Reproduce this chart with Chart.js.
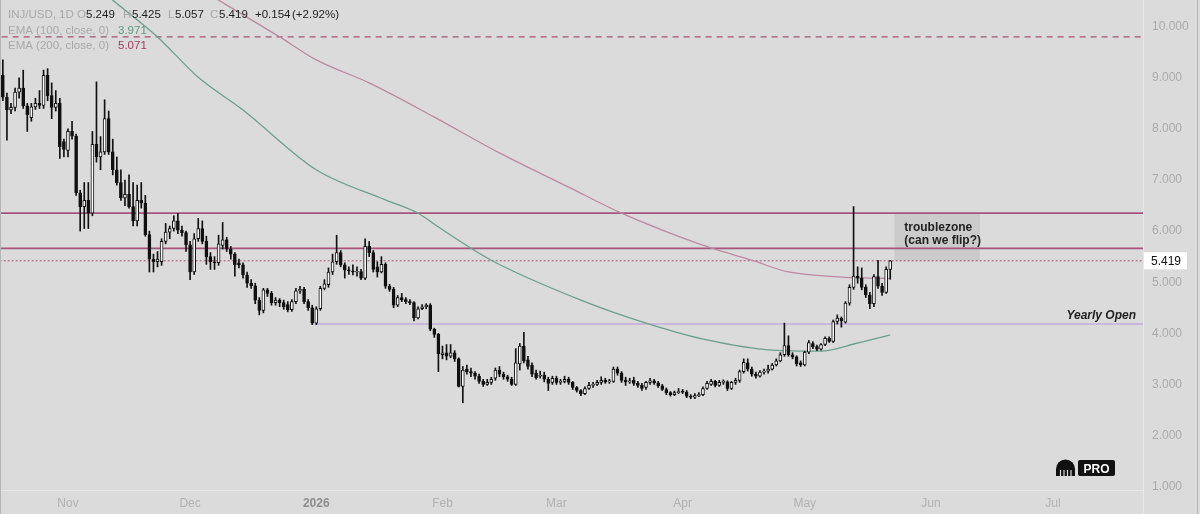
<!DOCTYPE html>
<html>
<head>
<meta charset="utf-8">
<script src="https://cdn.jsdelivr.net/npm/chart.js@4.4.1/dist/chart.umd.min.js"></script>
<style>
  html, body { margin: 0; padding: 0; background: #dbdbdb; }
  #wrap { width: 1200px; height: 514px; }
</style>
</head>
<body>
<div id="wrap"><canvas id="chart" width="1200" height="514"></canvas></div>
<script>
// INJ/USD daily candles, first one on 16 Oct 2025
const firstDate = '2025-10-16';

const openPrices = [
  9.05, 8.62, 8.37, 8.42, 8.72, 8.80, 8.45, 8.22, 8.43, 8.50,
  8.46, 9.05, 8.65, 8.42, 8.50, 7.75, 7.58, 7.95, 7.86, 6.75,
  6.48, 6.60, 6.35, 7.70, 7.45, 7.55, 8.20, 7.55, 7.20, 6.95,
  6.65, 6.72, 6.48, 6.20, 6.60, 6.55, 5.93, 5.45, 5.40, 5.40,
  5.80, 5.98, 6.05, 6.20, 6.02, 5.97, 5.73, 5.20, 5.85, 6.05,
  5.80, 5.50, 5.40, 5.38, 5.72, 5.83, 5.65, 5.55, 5.38, 5.34,
  5.14, 4.98, 4.93, 4.65, 4.45, 4.85, 4.78, 4.60, 4.65, 4.60,
  4.56, 4.46, 4.62, 4.83, 4.86, 4.62, 4.50, 4.20, 4.48, 4.88,
  4.95, 5.20, 5.40, 5.58, 5.34, 5.24, 5.22, 5.20, 5.21, 5.08,
  5.70, 5.58, 5.30, 5.20, 5.35, 4.92, 4.86, 4.55, 4.70, 4.66,
  4.62, 4.60, 4.30, 4.48, 4.52, 4.55, 4.08, 3.98, 3.58, 3.62,
  3.55, 3.62, 3.50, 2.96, 3.30, 3.25, 3.22, 3.16, 3.06, 3.00,
  3.04, 3.12, 3.28, 3.20, 3.15, 3.10, 3.00, 3.40, 3.75, 3.48,
  3.38, 3.22, 3.16, 3.18, 3.10, 3.04, 3.12, 3.04, 3.06, 3.10,
  3.04, 2.94, 2.88, 2.82, 2.92, 2.98, 3.00, 3.04, 3.08, 3.05,
  3.06, 3.30, 3.22, 3.08, 3.05, 3.08, 3.02, 2.98, 2.94, 3.04,
  3.07, 3.03, 2.97, 2.90, 2.84, 2.80, 2.84, 2.86, 2.85, 2.77,
  2.75, 2.78, 2.80, 2.92, 3.00, 3.06, 2.98, 3.04, 3.05, 2.92,
  3.04, 3.08, 3.25, 3.42, 3.30, 3.20, 3.16, 3.24, 3.26, 3.30,
  3.38, 3.46, 3.58, 3.76, 3.58, 3.54, 3.42, 3.38, 3.63, 3.80,
  3.74, 3.69, 3.78, 3.90, 3.84, 4.23, 4.30, 4.22, 4.59, 4.90,
  5.12, 5.08, 4.90, 4.75, 4.58, 5.11, 4.92, 4.80, 5.249
];
const highPrices = [
  9.35, 8.70, 8.50, 8.80, 9.00, 9.15, 8.50, 8.50, 8.60, 8.75,
  9.15, 9.18, 8.90, 8.75, 8.60, 7.80, 8.00, 8.15, 7.90, 6.80,
  6.95, 6.95, 7.95, 8.92, 7.85, 8.57, 8.35, 7.80, 7.45, 7.20,
  7.00, 7.10, 6.95, 6.90, 6.95, 6.70, 6.00, 5.55, 5.60, 5.85,
  6.15, 6.10, 6.30, 6.35, 6.10, 6.00, 5.80, 5.95, 6.25, 6.20,
  5.90, 5.58, 5.50, 5.92, 6.17, 5.88, 5.70, 5.58, 5.45, 5.38,
  5.20, 5.05, 4.98, 4.70, 4.88, 4.88, 4.82, 4.70, 4.68, 4.65,
  4.62, 4.66, 4.88, 4.92, 4.90, 4.66, 4.55, 4.52, 4.92, 5.05,
  5.28, 5.55, 5.92, 5.62, 5.38, 5.30, 5.34, 5.30, 5.25, 5.85,
  5.80, 5.62, 5.40, 5.50, 5.38, 4.96, 4.90, 4.74, 4.78, 4.70,
  4.66, 4.62, 4.52, 4.56, 4.58, 4.58, 4.10, 4.00, 3.75, 3.78,
  3.78, 3.66, 3.52, 3.35, 3.38, 3.32, 3.25, 3.20, 3.10, 3.10,
  3.14, 3.32, 3.35, 3.24, 3.18, 3.14, 3.70, 3.80, 4.02, 3.55,
  3.42, 3.28, 3.26, 3.24, 3.14, 3.16, 3.16, 3.10, 3.16, 3.14,
  3.06, 2.96, 2.90, 2.95, 3.04, 3.04, 3.08, 3.15, 3.12, 3.10,
  3.34, 3.34, 3.25, 3.14, 3.12, 3.14, 3.06, 3.02, 3.06, 3.12,
  3.10, 3.06, 3.00, 2.93, 2.86, 2.87, 2.92, 2.90, 2.88, 2.80,
  2.82, 2.84, 2.95, 3.06, 3.10, 3.08, 3.08, 3.09, 3.07, 3.06,
  3.12, 3.28, 3.50, 3.50, 3.34, 3.24, 3.27, 3.30, 3.38, 3.41,
  3.50, 3.62, 4.20, 3.95, 3.62, 3.56, 3.46, 3.65, 3.86, 3.84,
  3.77, 3.80, 3.93, 3.93, 4.26, 4.36, 4.32, 4.62, 4.95, 6.48,
  5.30, 5.28, 4.95, 4.80, 5.15, 5.43, 4.98, 5.30, 5.425
];
const lowPrices = [
  8.55, 7.78, 8.30, 8.35, 8.60, 8.40, 7.95, 8.15, 8.38, 8.40,
  8.40, 8.55, 8.20, 8.35, 7.42, 7.45, 7.45, 7.80, 6.70, 6.00,
  6.05, 6.05, 6.30, 7.35, 7.20, 7.50, 7.50, 7.10, 6.90, 6.60,
  6.50, 6.45, 6.10, 6.10, 6.45, 5.90, 5.20, 5.20, 5.30, 5.33,
  5.75, 5.85, 6.00, 5.95, 5.90, 5.60, 5.05, 5.15, 5.80, 5.75,
  5.35, 5.25, 5.25, 5.33, 5.65, 5.60, 5.45, 5.12, 5.28, 5.08,
  4.90, 4.88, 4.58, 4.36, 4.40, 4.72, 4.55, 4.55, 4.52, 4.47,
  4.42, 4.43, 4.58, 4.78, 4.58, 4.45, 4.17, 4.17, 4.45, 4.85,
  4.90, 5.15, 5.35, 5.30, 5.08, 5.15, 5.14, 5.12, 5.05, 5.05,
  5.50, 5.20, 5.10, 5.18, 4.88, 4.82, 4.50, 4.52, 4.62, 4.58,
  4.56, 4.24, 4.28, 4.46, 4.48, 4.05, 3.92, 3.25, 3.50, 3.48,
  3.52, 3.45, 2.95, 2.64, 3.20, 3.15, 3.10, 3.02, 2.96, 2.98,
  3.00, 3.08, 3.15, 3.10, 3.06, 2.98, 2.98, 3.28, 3.42, 3.30,
  3.15, 3.10, 3.12, 3.05, 2.88, 3.00, 3.00, 3.00, 3.03, 3.00,
  2.90, 2.85, 2.78, 2.80, 2.90, 2.94, 2.98, 3.00, 3.02, 3.02,
  3.04, 3.18, 3.04, 2.98, 3.02, 2.98, 2.94, 2.88, 2.90, 3.00,
  3.00, 2.94, 2.88, 2.80, 2.77, 2.78, 2.82, 2.82, 2.74, 2.72,
  2.72, 2.76, 2.78, 2.90, 2.98, 2.95, 2.96, 3.00, 2.88, 2.90,
  3.00, 3.04, 3.22, 3.26, 3.16, 3.12, 3.14, 3.20, 3.22, 3.28,
  3.36, 3.44, 3.55, 3.55, 3.50, 3.36, 3.35, 3.36, 3.60, 3.70,
  3.66, 3.67, 3.76, 3.82, 3.82, 4.18, 4.12, 4.20, 4.55, 4.86,
  4.98, 4.85, 4.70, 4.48, 4.52, 4.88, 4.74, 4.78, 5.057
];
const closePrices = [
  8.62, 8.37, 8.42, 8.72, 8.80, 8.45, 8.28, 8.43, 8.50, 8.46,
  9.05, 8.65, 8.42, 8.50, 7.65, 7.60, 7.95, 7.86, 6.75, 6.48,
  6.60, 6.35, 7.70, 7.45, 7.55, 8.20, 7.55, 7.20, 6.95, 6.65,
  6.72, 6.48, 6.20, 6.60, 6.55, 5.93, 5.45, 5.40, 5.45, 5.80,
  5.98, 6.05, 6.20, 6.02, 5.97, 5.73, 5.20, 5.85, 6.05, 5.80,
  5.50, 5.40, 5.38, 5.75, 5.83, 5.65, 5.55, 5.34, 5.34, 5.14,
  4.98, 4.93, 4.65, 4.45, 4.85, 4.78, 4.60, 4.65, 4.60, 4.52,
  4.46, 4.62, 4.83, 4.86, 4.62, 4.50, 4.20, 4.48, 4.88, 4.97,
  5.20, 5.40, 5.58, 5.34, 5.24, 5.22, 5.20, 5.21, 5.08, 5.70,
  5.58, 5.25, 5.20, 5.35, 4.92, 4.86, 4.55, 4.70, 4.66, 4.62,
  4.60, 4.30, 4.48, 4.52, 4.55, 4.08, 3.98, 3.60, 3.62, 3.55,
  3.62, 3.50, 2.96, 3.28, 3.25, 3.22, 3.16, 3.06, 3.00, 3.04,
  3.10, 3.28, 3.20, 3.15, 3.10, 3.00, 3.42, 3.75, 3.46, 3.35,
  3.20, 3.13, 3.18, 3.10, 3.02, 3.12, 3.04, 3.06, 3.10, 3.04,
  2.94, 2.88, 2.82, 2.92, 2.98, 3.00, 3.04, 3.08, 3.05, 3.06,
  3.30, 3.22, 3.08, 3.05, 3.07, 3.02, 2.98, 2.92, 3.04, 3.07,
  3.03, 2.97, 2.90, 2.84, 2.80, 2.84, 2.86, 2.85, 2.77, 2.75,
  2.78, 2.80, 2.92, 3.02, 3.06, 2.98, 3.04, 3.05, 2.92, 3.04,
  3.08, 3.25, 3.43, 3.30, 3.20, 3.16, 3.24, 3.26, 3.30, 3.38,
  3.46, 3.58, 3.76, 3.58, 3.54, 3.40, 3.38, 3.63, 3.82, 3.74,
  3.69, 3.78, 3.90, 3.84, 4.23, 4.30, 4.24, 4.59, 4.90, 5.12,
  5.08, 4.90, 4.75, 4.58, 5.11, 4.92, 4.80, 5.25, 5.419
];

// EMA curves
const ema100Dates = ['2025-11-01', '2025-11-12', '2025-11-23', '2025-12-03', '2025-12-14', '2026-01-01',
  '2026-01-18', '2026-01-26', '2026-01-31', '2026-02-13', '2026-03-07', '2026-03-23', '2026-04-07',
  '2026-04-23', '2026-05-05', '2026-05-14', '2026-05-22'];
const ema100Values = [11.25, 10.52, 9.80, 9.01, 8.37, 7.20, 6.61, 6.35, 6.08, 5.43, 4.65, 4.20, 3.87,
  3.67, 3.65, 3.81, 3.971];
const ema200Dates = ['2025-11-28', '2025-12-08', '2025-12-23', '2026-01-01', '2026-01-14', '2026-01-30',
  '2026-02-15', '2026-03-04', '2026-03-17', '2026-03-27', '2026-04-08', '2026-04-18', '2026-04-27',
  '2026-05-10', '2026-05-17', '2026-05-22'];
const ema200Values = [11.0, 10.52, 9.80, 9.35, 8.90, 8.23, 7.53, 6.86, 6.35, 6.02, 5.67, 5.43, 5.20,
  5.10, 5.08, 5.071];

const dashedLevel = 9.80;
const solidLevels = [6.35, 5.66];
const lastPrice = 5.419;
const yearlyOpenDate = '2026-01-01';
const yearlyOpenPrice = 4.18;
const zoneDates = ['2026-05-23', '2026-06-13'];
const zonePrices = [6.35, 5.419];

const monthTicks = ['2025-11-01', '2025-12-01', '2026-01-01', '2026-02-01', '2026-03-01',
  '2026-04-01', '2026-05-01', '2026-06-01', '2026-07-01'];
const monthLabels = ['Nov', 'Dec', '2026', 'Feb', 'Mar', 'Apr', 'May', 'Jun', 'Jul'];
const priceTicks = [1, 2, 3, 4, 5, 6, 7, 8, 9, 10];

const dayNum = s => Date.parse(s + 'T00:00:00Z') / 864e5;
const day0 = dayNum(firstDate);
const novFirst = dayNum('2025-11-01');
const viewStart = novFirst - 16.7;
const viewEnd = novFirst + 264.1;

const wicks = [], bodies = [], bodyColors = [];
for (let i = 0; i < closePrices.length; i++) {
  wicks.push({ x: day0 + i, y: [lowPrices[i], highPrices[i]] });
  bodies.push({ x: day0 + i, y: [openPrices[i], closePrices[i]] });
  bodyColors.push(closePrices[i] >= openPrices[i] ? '#ffffff' : '#111111');
}

const FONT = '"Liberation Sans", Arial, sans-serif';
const levelLine = (y, from, color, width, dash, order) => ({
  type: 'line',
  data: [{ x: from, y: y }, { x: viewEnd + 5, y: y }],
  borderColor: color, borderWidth: width, borderDash: dash,
  pointRadius: 0, order: order
});
const noPad = s => { s.paddingTop = 0; s.paddingBottom = 0; s.paddingLeft = 0; s.paddingRight = 0; };

const overlay = {
  id: 'overlay',
  beforeDatasetsDraw(chart) {
    const { ctx, scales: { x, y } } = chart;
    const x0 = x.getPixelForValue(dayNum(zoneDates[0]));
    const x1 = x.getPixelForValue(dayNum(zoneDates[1]));
    const y0 = y.getPixelForValue(zonePrices[0]);
    const y1 = y.getPixelForValue(zonePrices[1]);
    ctx.save();
    ctx.fillStyle = '#cbcbcb';
    ctx.fillRect(x0, y0, x1 - x0, y1 - y0);
    ctx.restore();
  },
  afterDraw(chart) {
    const { ctx, chartArea: a, scales: { x, y } } = chart;
    ctx.save();
    // axis separators
    ctx.strokeStyle = '#e7e7e7';
    ctx.lineWidth = 1;
    ctx.beginPath();
    ctx.moveTo(a.right + 0.5, 0); ctx.lineTo(a.right + 0.5, 514);
    ctx.moveTo(0, a.bottom + 0.5); ctx.lineTo(a.right, a.bottom + 0.5);
    ctx.stroke();
    ctx.strokeStyle = '#b5b5b5';
    ctx.beginPath();
    ctx.moveTo(1197.5, 0); ctx.lineTo(1197.5, 514);
    ctx.moveTo(0.5, 0); ctx.lineTo(0.5, 514);
    ctx.stroke();

    // header
    const gray = '#a9a9a9', dark = '#1e1e1e';
    const n = closePrices.length - 1;
    ctx.font = '11.5px ' + FONT;
    ctx.textBaseline = 'alphabetic';
    ctx.textAlign = 'left';
    [['INJ/USD, 1D', 8, gray], ['O', 77, gray], [openPrices[n].toFixed(3), 86, dark],
     ['H', 123, gray], [highPrices[n].toFixed(3), 132, dark],
     ['L', 168, gray], [lowPrices[n].toFixed(3), 175, dark],
     ['C', 210, gray], [closePrices[n].toFixed(3), 219, dark],
     ['+0.154', 255, dark], ['(+2.92%)', 292, dark]].forEach(([t, px, c]) => {
      ctx.fillStyle = c; ctx.fillText(t, px, 17.5);
    });
    ctx.fillStyle = gray;
    ctx.fillText('EMA (100, close, 0)', 8, 33.5);
    ctx.fillText('EMA (200, close, 0)', 8, 49);
    ctx.fillStyle = '#5d9a80';
    ctx.fillText(ema100Values[ema100Values.length - 1].toFixed(3), 118, 33.5);
    ctx.fillStyle = '#a13c60';
    ctx.fillText(ema200Values[ema200Values.length - 1].toFixed(3), 118, 49);

    // troublezone note
    const zx = x.getPixelForValue(dayNum(zoneDates[0]));
    const zy = y.getPixelForValue(zonePrices[0]);
    ctx.fillStyle = '#222';
    ctx.font = 'bold 12px ' + FONT;
    ctx.fillText('troublezone', zx + 10, zy + 18);
    ctx.fillText('(can we flip?)', zx + 10, zy + 31);

    // yearly open label
    ctx.font = 'italic bold 12px ' + FONT;
    ctx.textAlign = 'right';
    ctx.fillText('Yearly Open', a.right - 7, y.getPixelForValue(yearlyOpenPrice) - 5);

    // last price tag
    const py = y.getPixelForValue(lastPrice);
    ctx.fillStyle = '#ffffff';
    ctx.fillRect(a.right + 1, py - 8.5, 43, 17);
    ctx.fillStyle = '#111';
    ctx.font = '12px ' + FONT;
    ctx.textAlign = 'left';
    ctx.fillText(lastPrice.toFixed(3), a.right + 8, py + 4.5);

    // PRO badge
    ctx.fillStyle = '#111';
    ctx.beginPath();
    ctx.moveTo(1056, 476);
    ctx.lineTo(1056, 469);
    ctx.arc(1065.5, 469, 9.5, Math.PI, 0);
    ctx.lineTo(1075, 476);
    ctx.closePath();
    ctx.fill();
    ctx.strokeStyle = '#dbdbdb';
    ctx.lineWidth = 1.2;
    ctx.beginPath();
    [1060.5, 1064, 1067.5, 1071].forEach(lx => { ctx.moveTo(lx, 470); ctx.lineTo(lx, 477); });
    ctx.stroke();
    ctx.fillStyle = '#111';
    ctx.beginPath();
    ctx.roundRect(1078, 460, 37, 16, 2);
    ctx.fill();
    ctx.fillStyle = '#fff';
    ctx.font = 'bold 12px ' + FONT;
    ctx.textAlign = 'center';
    ctx.fillText('PRO', 1096.5, 472.5);
    ctx.restore();
  }
};

new Chart(document.getElementById('chart'), {
  type: 'bar',
  data: {
    datasets: [
      {
        data: wicks, backgroundColor: '#111111', barThickness: 1,
        grouped: false, order: 3
      },
      {
        data: bodies, backgroundColor: bodyColors, borderColor: '#111111', borderWidth: 1,
        borderSkipped: false, barThickness: 3, minBarLength: 1, grouped: false, order: 2
      },
      {
        type: 'line',
        data: ema100Dates.map((d, i) => ({ x: dayNum(d), y: ema100Values[i] })),
        borderColor: '#6f9e8c', borderWidth: 1.3, pointRadius: 0,
        cubicInterpolationMode: 'monotone', order: 4
      },
      {
        type: 'line',
        data: ema200Dates.map((d, i) => ({ x: dayNum(d), y: ema200Values[i] })),
        borderColor: '#b98aa2', borderWidth: 1.3, pointRadius: 0,
        cubicInterpolationMode: 'monotone', order: 4
      },
      levelLine(dashedLevel, viewStart - 5, '#a05474', 1.3, [6, 5], 5),
      levelLine(solidLevels[0], viewStart - 5, '#a5567a', 1.8, [], 5),
      levelLine(solidLevels[1], viewStart - 5, '#a5567a', 1.8, [], 5),
      levelLine(lastPrice, viewStart - 5, '#a05474', 1, [2, 2], 5),
      levelLine(yearlyOpenPrice, dayNum(yearlyOpenDate), '#c3acd9', 1.5, [], 5)
    ]
  },
  options: {
    responsive: false,
    devicePixelRatio: 1,
    animation: false,
    layout: { padding: 0 },
    plugins: { legend: { display: false }, tooltip: { enabled: false } },
    scales: {
      x: {
        type: 'linear',
        min: viewStart,
        max: viewEnd,
        offset: false,
        grid: { display: false, drawTicks: false },
        border: { display: false },
        afterBuildTicks: s => { s.ticks = monthTicks.map(d => ({ value: dayNum(d) })); },
        afterFit: s => { s.height = 24; noPad(s); },
        ticks: {
          autoSkip: false, maxRotation: 0, padding: 6,
          callback: (v, i) => monthLabels[i],
          color: c => (c.index === 2 ? '#8d8d8d' : '#b2b2b2'),
          font: c => ({ family: FONT, size: 12, weight: c.index === 2 ? 'bold' : 'normal' })
        }
      },
      y: {
        position: 'right',
        min: 0.9334,
        max: 10.5225,
        grid: { display: false, drawTicks: false },
        border: { display: false },
        afterBuildTicks: s => { s.ticks = priceTicks.map(v => ({ value: v })); },
        afterFit: s => { s.width = 57; noPad(s); },
        ticks: {
          padding: 9,
          color: '#ababab',
          font: { family: FONT, size: 12 },
          callback: v => v.toFixed(3)
        }
      }
    }
  },
  plugins: [overlay]
});
</script>
</body>
</html>
